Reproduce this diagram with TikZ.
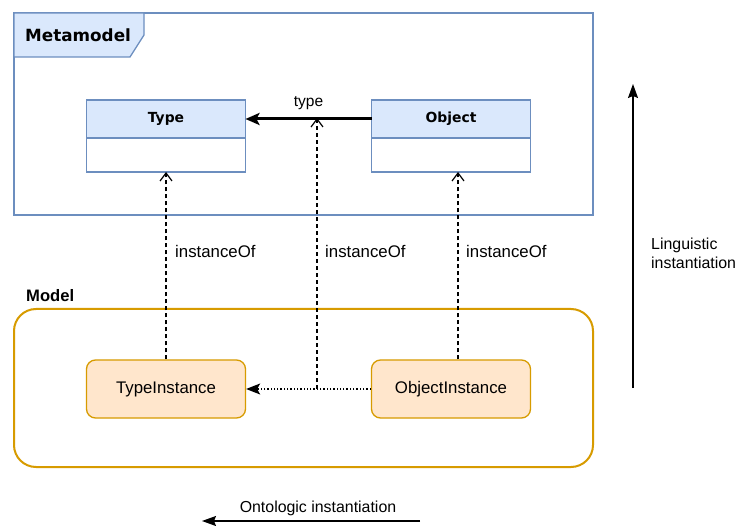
\documentclass[tikz,border=0pt]{standalone}
\usepackage{fontspec}
\setmainfont{Liberation Sans}
\newfontfamily\headfont{DejaVu Sans}
\usetikzlibrary{arrows.meta,positioning}
\definecolor{metafill}{HTML}{DAE8FC}
\definecolor{metaline}{HTML}{6C8EBF}
\definecolor{modelfill}{HTML}{FFE6CC}
\definecolor{modelline}{HTML}{D79B00}
\tikzset{
  classhead/.style={draw=metaline,fill=metafill,line width=1.3pt,outer sep=0pt,minimum width=159pt,minimum height=38pt,inner sep=0pt,font=\headfont\bfseries\fontsize{13.9}{16}\selectfont},
  classbody/.style={draw=metaline,fill=white,line width=1.3pt,outer sep=0pt,minimum width=159pt,minimum height=34pt,inner sep=0pt},
  instbox/.style={draw=modelline,fill=modelfill,line width=1.3pt,rounded corners=9pt,minimum width=159pt,minimum height=58pt,inner sep=0pt,font=\fontsize{16.8}{20}\selectfont},
  instof/.style={dashed,line width=1.3pt,dash pattern=on 4pt off 3pt,-{Straight Barb[length=8pt,width=12pt,line width=1.2pt]}},
  lbl/.style={font=\fontsize{16.8}{20}\selectfont,inner sep=0pt},
  note/.style={font=\fontsize{15.9}{19}\selectfont,inner sep=0pt,align=left}
}
\begin{document}
\begin{tikzpicture}[x=1pt,y=-1pt]
        \useasboundingbox (0,0) rectangle (736,526);
        % metamodel frame
        \draw[metaline,line width=1.3pt] (14,13) rectangle (593,215);
        \draw[metaline,fill=metafill,line width=1.3pt] (14,13)--(144,13)--(144,35)--(130,57)--(14,57)--cycle;
        \node[anchor=west,inner sep=0pt,font=\headfont\bfseries\fontsize{16.8}{20}\selectfont] (metalbl) at (25,35) {Metamodel};
        \node[classhead] (typehead) at (166,119) {Type};
        \node[classbody,below=0pt of typehead] (typebody) {};
        \node[classhead] (objhead) at (451,119) {Object};
        \node[classbody,below=0pt of objhead] (objbody) {};
        \draw[line width=3pt,-{Stealth[length=14pt,width=12pt,inset=3pt]}] (objhead.west) -- (typehead.east) node[lbl,midway,above=8pt,font=\fontsize{15.5}{18}\selectfont] (typelbl) {type};
        % model frame
        \draw[modelline,line width=2pt,rounded corners=22pt] (14,309) rectangle (593,467);
        \node[anchor=west,inner sep=0pt,font=\bfseries\fontsize{16.6}{20}\selectfont] (modellbl) at (26,296) {Model};
        \node[instbox] (tinst) at (166,389) {TypeInstance};
        \node[instbox] (oinst) at (451,389) {ObjectInstance};
        \coordinate (lowmid) at (317,389);
        \coordinate (upmid) at (317,118);
        \draw[dotted,line width=1.3pt,-{Stealth[length=14pt,width=11pt,inset=3pt]}] (oinst.west) -- (tinst.east);
        % instanceOf connectors
        \draw[instof] (tinst.north) -- (typebody.south);
        \draw[instof] (lowmid) -- (upmid);
        \draw[instof] ([xshift=7pt]oinst.north) -- ([xshift=7pt]objbody.south);
        \node[lbl,anchor=west] (iof1) at (175,251) {instanceOf};
        \node[lbl,anchor=west] (iof2) at (325,251) {instanceOf};
        \node[lbl,anchor=west] (iof3) at (466,251) {instanceOf};
        % instantiation axes
        \coordinate (lingbot) at (633,388);
        \coordinate (lingtop) at (633,84);
        \draw[line width=1.3pt,-{Stealth[length=14pt,width=10pt,inset=2pt]}] (lingbot) -- (lingtop);
        \node[note,anchor=west] (linglbl) at (651,253) {Linguistic\\instantiation};
        \coordinate (ontright) at (420,521);
        \coordinate (ontleft) at (202,521);
        \draw[line width=1.3pt,-{Stealth[length=14pt,width=10pt,inset=2pt]}] (ontright) -- (ontleft);
        \node[note] (ontlbl) at (318,508) {Ontologic instantiation};
        \end{tikzpicture}
\end{document}
